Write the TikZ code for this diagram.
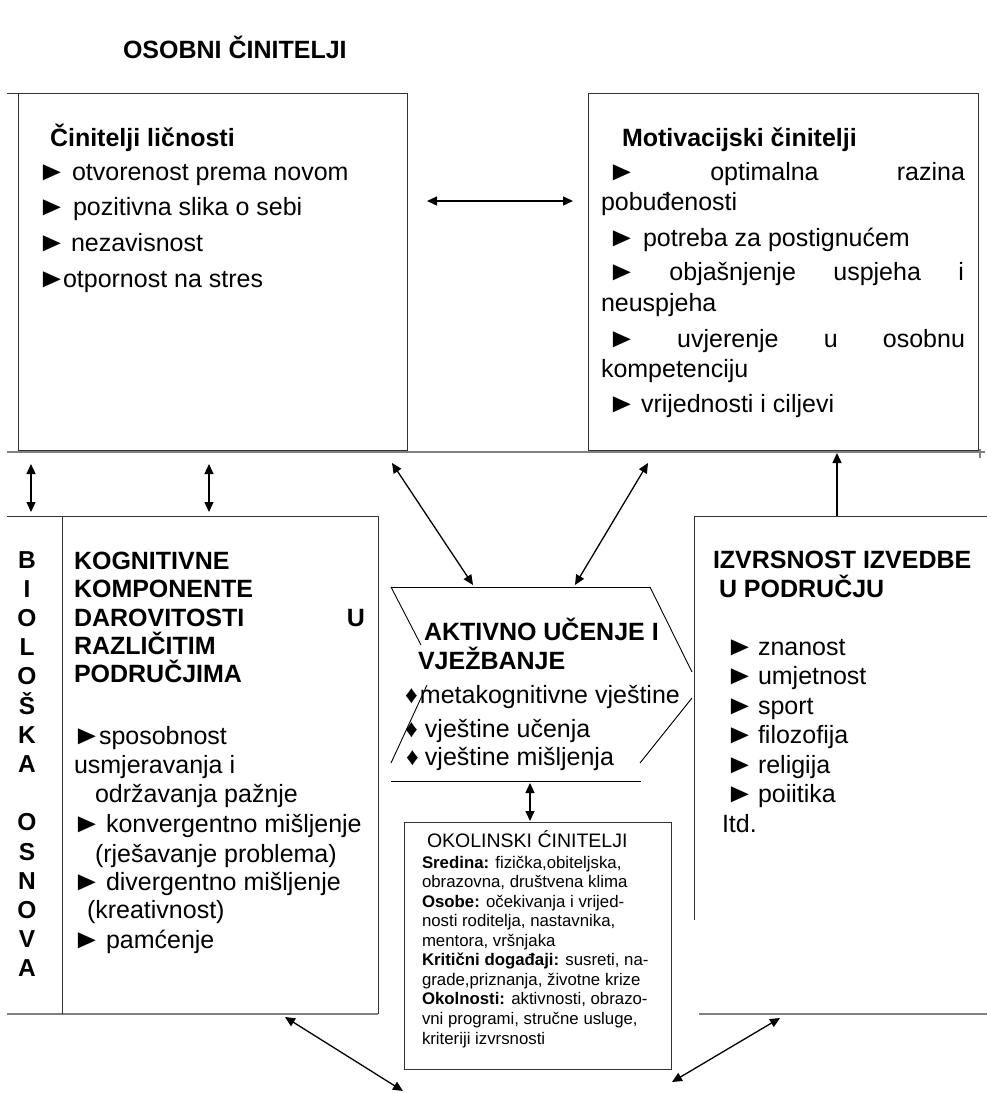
\documentclass[tikz,border=0pt]{standalone}
\usepackage{fontspec}
\usepackage{graphicx}
\setmainfont{Liberation Sans}
\usetikzlibrary{arrows.meta}
\newcommand{\tri}{\rlap{\hspace{-5pt}\scalebox{1.2}[1.08]{►}}}
\begin{document}
\begin{tikzpicture}[x=1pt,y=-1pt,
  box/.style={draw=black!80, line width=0.9pt},
  rulegray/.style={draw=black!50, line width=1.6pt},
  frame/.style={draw=black!80, line width=0.9pt},
  dbl/.style={{Triangle[length=10pt,width=9pt]}-{Triangle[length=10pt,width=9pt]}, line width=1.3pt},
  one/.style={-{Triangle[length=10pt,width=9pt]}, line width=1.3pt},
  t/.style={anchor=base west, inner sep=0pt, outer sep=0pt},
  big/.style={t, font=\fontsize{25}{30}\selectfont},
  bigb/.style={t, font=\fontsize{25}{30}\selectfont\bfseries},
  small/.style={t, font=\fontsize{16.8}{19.6}\selectfont},
]
\useasboundingbox (0,0) rectangle (987,1093);

% ---------- frames ----------
\node[box, anchor=north west, minimum width=389pt, minimum height=357pt, inner sep=0pt] (lic) at (18,93) {};
\node[box, anchor=north west, minimum width=390pt, minimum height=357pt, inner sep=0pt] (mot) at (588,93) {};
\node[box, anchor=north west, minimum width=267pt, minimum height=247pt, inner sep=0pt] (oko) at (404,822) {};
\draw[frame] (7,93) -- (lic.north west);
\draw[rulegray] (7,452) -- (985,452);
\draw[rulegray] (980,449) -- (980,458);
% left (cognitive) frame
\coordinate (kogNW) at (7,516);
\coordinate (kogNE) at (378,516);
\coordinate (kogSE) at (378,1014);
\coordinate (kogSW) at (7,1014);
\draw[frame] (kogNW) -- (kogNE) -- (kogSE);
\draw[rulegray] (kogSW) -- (kogSE);
\draw[frame] (62,516) -- (62,1014);
% right (performance) frame
\coordinate (izvNW) at (694,516);
\draw[frame] (694,920) -- (izvNW) -- (987,516);
\draw[rulegray] (699,1014) -- (987,1014);
% active learning shape
\coordinate (akTL) at (391,587);
\coordinate (akTR) at (650,587);
\draw[frame, black] (akTL) -- (akTR);
\draw[frame, black] (akTL) -- (421,645);
\draw[frame, black] (427,685) -- (391,763);
\draw[frame, black] (akTR) -- (692,672);
\draw[frame, black] (692,698) -- (640,763);
\draw[frame, black] (391,781) -- (641,781);

% ---------- connectors ----------
\coordinate (h1) at (427,201); \coordinate (h2) at (573,201);
\draw[dbl] (h1) -- (h2);
\coordinate (v1a) at (31,464); \coordinate (v1b) at (31,512);
\draw[dbl] (v1a) -- (v1b);
\coordinate (v2a) at (209,464); \coordinate (v2b) at (209,512);
\draw[dbl] (v2a) -- (v2b);
\coordinate (d1a) at (392,463); \coordinate (d1b) at (473,585);
\draw[dbl] (d1a) -- (d1b);
\coordinate (d2a) at (648,463); \coordinate (d2b) at (575,585);
\draw[dbl] (d2a) -- (d2b);
\coordinate (u1a) at (837,516); \coordinate (u1b) at (837,453);
\draw[one] (u1a) -- (u1b);
\coordinate (c1a) at (530,783); \coordinate (c1b) at (530,821);
\draw[dbl] (c1a) -- (c1b);
\coordinate (b1a) at (285,1017); \coordinate (b1b) at (403,1091);
\draw[dbl] (b1a) -- (b1b);
\coordinate (b2a) at (780,1018); \coordinate (b2b) at (672,1082);
\draw[dbl] (b2a) -- (b2b);

% ---------- texts ----------
\node[bigb] (title) at (123,58) {OSOBNI ČINITELJI};

\node[bigb] (licH) at (50,146) {Činitelji ličnosti};
\node[big] (lic1) at (42,180) {\hbox to 30pt{\tri\hss}otvorenost prema novom};
\node[big] (lic2) at (42,215) {\hbox to 31pt{\tri\hss}pozitivna slika o sebi};
\node[big] (lic3) at (42,251) {\hbox to 29pt{\tri\hss}nezavisnost};
\node[big] (lic4) at (42,287) {\hbox to 21pt{\tri\hss}otpornost na stres};

\node[bigb] (motH) at (622,146) {Motivacijski činitelji};
\node[big] (mot1) at (612,180) {\hbox to 353pt{\hbox to 20pt{\tri\hss}\hfill optimalna\hfill razina}};
\node[big] (mot1b) at (601,210) {pobuđenosti};
\node[big] (mot2) at (612,246) {\hbox to 31pt{\tri\hss}potreba za postignućem};
\node[big] (mot3) at (612,280) {\hbox to 352pt{\hbox to 20pt{\tri\hss}\hfill objašnjenje\hfill uspjeha\hfill i}};
\node[big] (mot3b) at (601,311) {neuspjeha};
\node[big] (mot4) at (612,347) {\hbox to 353pt{\hbox to 20pt{\tri\hss}\hfill uvjerenje\hfill u\hfill osobnu}};
\node[big] (mot4b) at (601,377) {kompetenciju};
\node[big] (mot5) at (612,412) {\hbox to 29pt{\tri\hss}vrijednosti i ciljevi};

% biological basis column
\foreach \ch [count=\i from 0] in {B,I,O,L,O,Š,K,A,{},O,S,N,O,V,A}
  \node[anchor=base, inner sep=0pt, font=\fontsize{24.5}{29}\selectfont\bfseries] (bio\i) at (27,568+29.2*\i) {\ch};

% cognitive components
\node[bigb] (kog1) at (74,569) {KOGNITIVNE};
\node[bigb] (kog2) at (74,597) {KOMPONENTE};
\node[bigb] (kog3) at (74,626) {\hbox to 291pt{DAROVITOSTI\hfill U}};
\node[bigb] (kog4) at (74,654) {RAZLIČITIM};
\node[bigb] (kog5) at (74,682) {PODRUČJIMA};
\node[big] (kog6) at (77,744) {\hbox to 22pt{\tri\hss}sposobnost};
\node[big] (kog7) at (74,773) {usmjeravanja i};
\node[big] (kog8) at (95,802) {održavanja pažnje};
\node[big] (kog9) at (77,832) {\hbox to 29pt{\tri\hss}konvergentno mišljenje};
\node[big] (kog10) at (95,862) {(rješavanje problema)};
\node[big] (kog11) at (77,890) {\hbox to 29pt{\tri\hss}divergentno mišljenje};
\node[big] (kog12) at (87,918) {(kreativnost)};
\node[big] (kog13) at (77,948) {\hbox to 29pt{\tri\hss}pamćenje};

% active learning
\node[bigb] (ak1) at (424,640) {AKTIVNO UČENJE I};
\node[bigb] (ak2) at (418,669) {VJEŽBANJE};
\node[big] (ak3) at (405,703) {\hbox to 15pt{♦\hss}metakognitivne vještine};
\node[big] (ak4) at (405,737) {\hbox to 20pt{♦\hss}vještine učenja};
\node[big] (ak5) at (406,765) {\hbox to 19pt{♦\hss}vještine mišljenja};

% performance
\node[bigb] (izv1) at (713,568) {IZVRSNOST IZVEDBE};
\node[bigb] (izv2) at (719,597) {U PODRUČJU};
\foreach \w [count=\i from 0] in {znanost,umjetnost,sport,filozofija,religija,poiitika}
  \node[big] (izvI\i) at (730,655+29.5*\i) {\hbox to 28pt{\tri\hss}\w};
\node[big] (izvEnd) at (722,832) {Itd.};

% environmental
\node[t, font=\fontsize{19.5}{22}\selectfont] (okoH) at (427,847) {OKOLINSKI ĆINITELJI};
\node[small] (oko1) at (422,868) {\textbf{Sredina:} fizička,obiteljska,};
\node[small] (oko2) at (422,887.5) {obrazovna, društvena klima};
\node[small] (oko3) at (422,907) {\textbf{Osobe:} očekivanja i vrijed-};
\node[small] (oko4) at (422,926.5) {nosti roditelja, nastavnika,};
\node[small] (oko5) at (422,946) {mentora, vršnjaka};
\node[small] (oko6) at (422,965.5) {\textbf{Kritični događaji:} susreti, na-};
\node[small] (oko7) at (422,985) {grade,priznanja, životne krize};
\node[small] (oko8) at (422,1004.5) {\textbf{Okolnosti:} aktivnosti, obrazo-};
\node[small] (oko9) at (422,1024.5) {vni programi, stručne usluge,};
\node[small] (oko10) at (422,1044) {kriteriji izvrsnosti};
\end{tikzpicture}
\end{document}
